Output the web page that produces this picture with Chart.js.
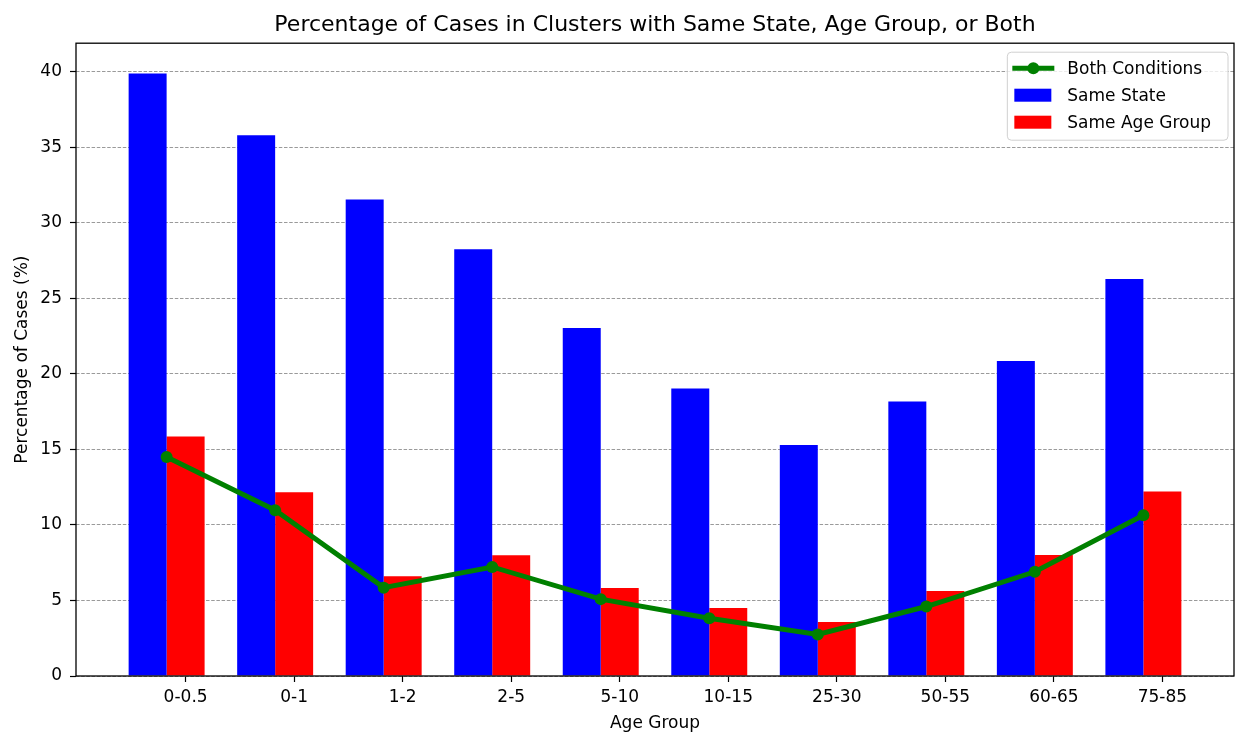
<!doctype html>
<html lang="en">
<head>
<meta charset="utf-8">
<title>Percentage of Cases in Clusters</title>
<script src="https://cdn.jsdelivr.net/npm/chart.js@4"></script>
<style>
  html, body { margin: 0; padding: 0; background: #fff; }
</style>
</head>
<body>
<canvas id="clusterChart" width="1235" height="734"></canvas>
<script>
// values
const ageGroups = ["0-0.5", "0-1", "1-2", "2-5", "5-10", "10-15", "25-30", "50-55", "60-65", "75-85"];
const sameState = [39.9, 35.8, 31.55, 28.25, 23.05, 19.03, 15.3, 18.17, 20.85, 26.28];
const sameAgeGroup = [15.85, 12.17, 6.6, 8.0, 5.83, 4.51, 3.58, 5.62, 8.02, 12.21];
const bothConditions = [14.5, 10.98, 5.85, 7.22, 5.09, 3.82, 2.75, 4.6, 6.9, 10.64];
const yTicks = [0, 5, 10, 15, 20, 25, 30, 35, 40];

const FONT = "'DejaVu Sans', sans-serif";
Chart.defaults.font.family = FONT;
Chart.defaults.color = "#000";

function points(vals) {
  return vals.map(function (v, i) { return { x: i, y: v }; });
}

// box round the plot area, like matplotlib spines
const framePlugin = {
  id: "frame",
  afterDatasetsDraw: function (chart) {
    const a = chart.chartArea, ctx = chart.ctx;
    ctx.save();
    ctx.strokeStyle = "#000";
    ctx.lineWidth = 1.3;
    ctx.strokeRect(a.left, a.top, a.right - a.left, a.bottom - a.top);
    ctx.restore();
  }
};

// legend in the upper right corner, inside the axes
const boxLegend = {
  id: "boxLegend",
  afterDraw: function (chart) {
    const ctx = chart.ctx, a = chart.chartArea;
    const sets = chart.data.datasets;
    ctx.save();
    ctx.font = "17px " + FONT;
    let textW = 0;
    sets.forEach(function (d) { textW = Math.max(textW, ctx.measureText(d.label).width); });
    const w = 60 + textW + 17, h = 88;
    const right = a.right - 6, top = a.top + 9, left = right - w;

    ctx.beginPath();
    ctx.roundRect(left, top, w, h, 4);
    ctx.fillStyle = "rgba(255,255,255,0.8)";
    ctx.fill();
    ctx.strokeStyle = "#d0d0d0";
    ctx.lineWidth = 1;
    ctx.stroke();

    sets.forEach(function (d, i) {
      const cy = top + 16 + i * 27;
      if (d.type === "line") {
        ctx.strokeStyle = d.borderColor;
        ctx.lineWidth = d.borderWidth;
        ctx.beginPath();
        ctx.moveTo(left + 5, cy);
        ctx.lineTo(left + 47, cy);
        ctx.stroke();
        ctx.fillStyle = d.borderColor;
        ctx.beginPath();
        ctx.arc(left + 26, cy, d.pointRadius, 0, Math.PI * 2);
        ctx.fill();
      } else {
        ctx.fillStyle = d.backgroundColor;
        ctx.fillRect(left + 7, cy - 6.5, 37, 13);
      }
      ctx.fillStyle = "#000";
      ctx.textBaseline = "middle";
      ctx.textAlign = "left";
      ctx.fillText(d.label, left + 60, cy + 1);
    });
    ctx.restore();
  }
};

const ctx = document.getElementById("clusterChart").getContext("2d");
new Chart(ctx, {
  type: "bar",
  data: {
    datasets: [
      {
        type: "line",
        label: "Both Conditions",
        data: points(bothConditions),
        borderColor: "#008000",
        backgroundColor: "#008000",
        borderWidth: 5,
        pointRadius: 6,
        pointBorderWidth: 0,
        pointBackgroundColor: "#008000",
        tension: 0,
        order: 0
      },
      {
        label: "Same State",
        data: points(sameState),
        backgroundColor: "#0000ff",
        borderWidth: 0,
        order: 1
      },
      {
        label: "Same Age Group",
        data: points(sameAgeGroup),
        backgroundColor: "#ff0000",
        borderWidth: 0,
        order: 1
      }
    ]
  },
  options: {
    responsive: false,
    devicePixelRatio: 1,
    animation: false,
    events: [],
    layout: { autoPadding: false, padding: { top: 0, right: 1, bottom: 0, left: 0 } },
    datasets: {
      bar: { categoryPercentage: 0.7, barPercentage: 1.0 }
    },
    plugins: {
      legend: { display: false },
      tooltip: { enabled: false },
      title: {
        display: true,
        fullSize: false,
        text: "Percentage of Cases in Clusters with Same State, Age Group, or Both",
        color: "#000",
        font: { size: 22, weight: "normal" },
        padding: { top: 12, bottom: 4.8 }
      }
    },
    scales: {
      x: {
        type: "linear",
        min: -0.835,
        max: 9.835,
        offset: false,
        afterBuildTicks: function (axis) {
          // tick under the centre of each red bar
          axis.ticks = ageGroups.map(function (g, i) { return { value: i + 0.175 }; });
        },
        afterFit: function (scale) {
          scale.height = 58;
          scale.paddingLeft = 0;
          scale.paddingRight = 0;
        },
        ticks: {
          autoSkip: false,
          maxRotation: 0,
          padding: 5,
          font: { size: 17 },
          callback: function (value, index) { return ageGroups[index]; }
        },
        grid: {
          offset: false,
          drawOnChartArea: false,
          tickLength: 6,
          tickColor: "#000",
          tickWidth: 1.2
        },
        border: { display: false },
        title: {
          display: true,
          text: "Age Group",
          font: { size: 17 },
          padding: { top: 0, bottom: 0 }
        }
      },
      y: {
        min: 0,
        max: 41.9,
        afterBuildTicks: function (axis) {
          axis.ticks = yTicks.map(function (v) { return { value: v }; });
        },
        afterFit: function (scale) { scale.width = 76; },
        ticks: {
          padding: 8,
          font: { size: 17 }
        },
        grid: {
          color: "#9a9a9a",
          lineWidth: 1,
          tickLength: 6,
          tickColor: "#000",
          tickWidth: 1.2,
          tickBorderDash: []
        },
        border: { display: false, dash: [3.5, 1.7] },
        title: {
          display: true,
          text: "Percentage of Cases (%)",
          font: { size: 17 },
          padding: { top: 12, bottom: 0 }
        }
      }
    }
  },
  plugins: [framePlugin, boxLegend]
});
</script>
</body>
</html>
